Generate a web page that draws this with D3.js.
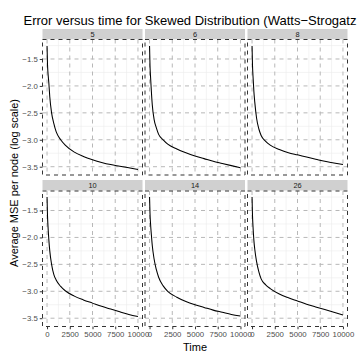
<!DOCTYPE html>
<html><head><meta charset="utf-8">
<script src="https://cdn.jsdelivr.net/npm/d3@7"></script>
<style>body{margin:0;background:#fff}svg{display:block;font-family:"Liberation Sans",Arial,sans-serif}</style>
</head><body><svg id="c" width="360" height="360"></svg>
<script>
const panels = ["5","6","8","10","14","26"];
const times = [0,50,100,200,300,500,750,1000,1500,2000,3000,4000,5000,6000,7000,8000,9000,10000];
const mse5  = [-1.26,-1.60,-1.75,-1.95,-2.20,-2.50,-2.70,-2.85,-3.00,-3.10,-3.23,-3.31,-3.37,-3.42,-3.46,-3.49,-3.52,-3.55];
const mse6  = [-1.26,-1.62,-1.80,-2.10,-2.35,-2.62,-2.78,-2.90,-3.00,-3.08,-3.17,-3.24,-3.30,-3.35,-3.40,-3.44,-3.48,-3.52];
const mse8  = [-1.26,-1.62,-1.80,-2.10,-2.30,-2.60,-2.80,-2.92,-3.03,-3.10,-3.18,-3.24,-3.28,-3.32,-3.36,-3.40,-3.43,-3.46];
const mse10 = [-1.25,-1.60,-1.78,-2.05,-2.25,-2.50,-2.69,-2.79,-2.91,-2.99,-3.09,-3.16,-3.22,-3.28,-3.33,-3.38,-3.43,-3.47];
const mse14 = [-1.25,-1.55,-1.72,-1.95,-2.15,-2.40,-2.60,-2.74,-2.90,-3.00,-3.11,-3.19,-3.25,-3.30,-3.35,-3.39,-3.43,-3.46];
const mse26 = [-1.25,-1.60,-1.78,-2.05,-2.22,-2.45,-2.64,-2.77,-2.88,-2.95,-3.05,-3.12,-3.18,-3.24,-3.29,-3.34,-3.39,-3.44];
const series = [mse5,mse6,mse8,mse10,mse14,mse26];
const xTicks = [0,2500,5000,7500,10000];
const xMinor = [1250,3750,6250,8750];
const yTicks = [-1.5,-2.0,-2.5,-3.0,-3.5];
const yMinor = [-1.25,-1.75,-2.25,-2.75,-3.25];
const title = "Error versus time for Skewed Distribution (Watts\u2212Strogatz";

const svg = d3.select("#c");
const colX = [42.5,145,247.5], W = 100;
const rowStrip = [29,180], stripH = 10.5;
const rowTop = [39.5,191], H = 135.5;

const x = d3.scaleLinear().domain([-500,10500]).range([0,W]);
const y = d3.scaleLinear().domain([-3.654,-1.138]).range([H,0]);
const fmt = d => d3.format(".1f")(d).replace("-", "\u2212");

svg.append("text").attr("x",23.5).attr("y",25).attr("font-size",13).attr("fill","#000").text(title);

panels.forEach((p,i)=>{
  const c = i%3, r = Math.floor(i/3);
  const gx = colX[c], gy = rowTop[r];
  svg.append("rect").attr("x",gx).attr("y",rowStrip[r]).attr("width",W).attr("height",stripH).attr("fill","#d0d0d0");
  svg.append("text").attr("x",gx+W/2).attr("y",rowStrip[r]+stripH/2).attr("dy","0.35em")
     .attr("text-anchor","middle").attr("font-size",7.4).attr("fill","#1a1a1a").text(p);
  const g = svg.append("g").attr("transform",`translate(${gx},${gy})`);
  g.append("rect").attr("width",W).attr("height",H).attr("fill","#fff");
  g.selectAll(".mx").data(xMinor).join("line").attr("x1",d=>x(d)).attr("x2",d=>x(d)).attr("y1",0).attr("y2",H)
   .attr("stroke","#ececec").attr("stroke-width",0.6);
  g.selectAll(".my").data(yMinor).join("line").attr("y1",d=>y(d)).attr("y2",d=>y(d)).attr("x1",0).attr("x2",W)
   .attr("stroke","#ececec").attr("stroke-width",0.6);
  g.selectAll(".gx").data(xTicks).join("line").attr("x1",d=>x(d)).attr("x2",d=>x(d)).attr("y1",0).attr("y2",H)
   .attr("stroke","#b8b8b8").attr("stroke-width",1).attr("stroke-dasharray","4,4");
  g.selectAll(".gy").data(yTicks).join("line").attr("y1",d=>y(d)).attr("y2",d=>y(d)).attr("x1",0).attr("x2",W)
   .attr("stroke","#b8b8b8").attr("stroke-width",1).attr("stroke-dasharray","4,4");
  const data = times.map((t,k)=>[t,series[i][k]]);
  g.append("path").datum(data).attr("fill","none").attr("stroke","#000").attr("stroke-width",1.05)
   .attr("d",d3.line().x(d=>x(d[0])).y(d=>y(d[1])).curve(d3.curveMonotoneX));
  g.append("rect").attr("x",0).attr("y",0).attr("width",W).attr("height",H).attr("fill","none")
   .attr("stroke","#333").attr("stroke-width",1).attr("stroke-dasharray","4,4");
  if (c===0) {
    const ay = g.append("g").call(d3.axisLeft(y).tickValues(yTicks).tickFormat(fmt).tickSize(2.75).tickPadding(2));
    ay.select(".domain").remove();
    ay.selectAll("line").attr("stroke","#333");
    ay.selectAll("text").attr("font-size",7.8).attr("fill","#4d4d4d").attr("font-family","Liberation Sans, Arial, sans-serif");
  }
  if (r===1) {
    const ax = g.append("g").attr("transform",`translate(0,${H})`)
      .call(d3.axisBottom(x).tickValues(xTicks).tickFormat(d3.format("d")).tickSize(2.75).tickPadding(2));
    ax.select(".domain").remove();
    ax.selectAll("line").attr("stroke","#333");
    ax.selectAll("text").attr("font-size",7.8).attr("fill","#4d4d4d").attr("font-family","Liberation Sans, Arial, sans-serif");
  }
});

svg.append("text").attr("x",195).attr("y",351).attr("text-anchor","middle").attr("font-size",11).text("Time");
svg.append("text").attr("transform","translate(18,183) rotate(-90)").attr("text-anchor","middle").attr("font-size",11)
   .text("Average MSE per node (log scale)");
</script></body></html>
